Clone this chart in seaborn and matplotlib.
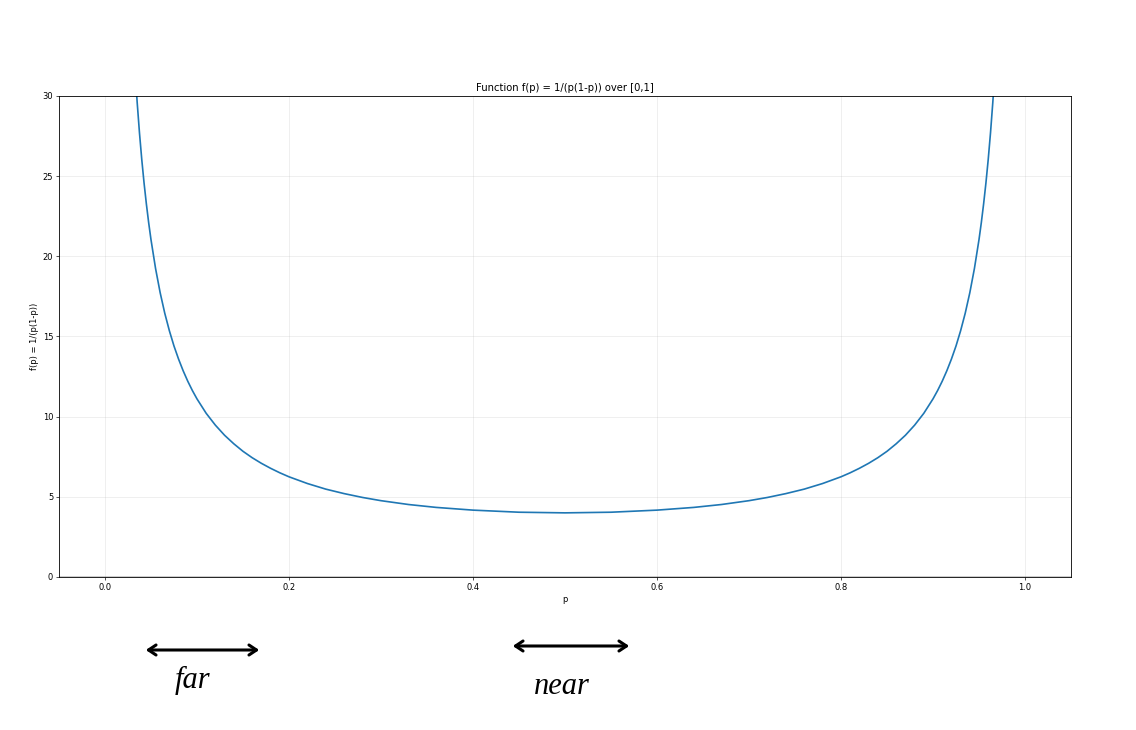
import matplotlib
matplotlib.use("Agg")
import matplotlib.pyplot as plt
import seaborn as sns

P_VALUES = [0.030, 0.0325, 0.035, 0.0375, 0.040, 0.0425, 0.045, 0.0475, 0.050, 0.055,
            0.060, 0.065, 0.070, 0.075, 0.080, 0.085, 0.090, 0.095, 0.100, 0.11,
            0.12, 0.13, 0.14, 0.15, 0.16, 0.17, 0.18, 0.19, 0.20, 0.22,
            0.24, 0.26, 0.28, 0.30, 0.33, 0.36, 0.40, 0.45, 0.50, 0.55,
            0.60, 0.64, 0.67, 0.70, 0.72, 0.74, 0.76, 0.78, 0.80, 0.81,
            0.82, 0.83, 0.84, 0.85, 0.86, 0.87, 0.88, 0.89, 0.90, 0.905,
            0.91, 0.915, 0.92, 0.925, 0.93, 0.935, 0.94, 0.945, 0.95, 0.9525,
            0.955, 0.9575, 0.96, 0.9625, 0.965, 0.9675, 0.97]
F_VALUES = [34.36, 31.80, 29.61, 27.71, 26.04, 24.57, 23.27, 22.10, 21.05, 19.24,
            17.73, 16.45, 15.36, 14.41, 13.59, 12.86, 12.21, 11.63, 11.11, 10.21,
            9.47, 8.84, 8.31, 7.84, 7.44, 7.09, 6.78, 6.50, 6.25, 5.83,
            5.48, 5.20, 4.96, 4.76, 4.52, 4.34, 4.17, 4.04, 4.00, 4.04,
            4.17, 4.34, 4.52, 4.76, 4.96, 5.20, 5.48, 5.83, 6.25, 6.50,
            6.78, 7.09, 7.44, 7.84, 8.31, 8.84, 9.47, 10.21, 11.11, 11.63,
            12.21, 12.86, 13.59, 14.41, 15.36, 16.45, 17.73, 19.24, 21.05, 22.10,
            23.27, 24.57, 26.04, 27.71, 29.61, 31.80, 34.36]

TITLE = "Function f(p) = 1/(p(1-p)) over [0,1]"
NOTES = ["far", "near"]

SCALE = 0.6  # the original figure looks shrunk down to this size
plt.rcParams.update({
    "font.size": 10 * SCALE,
    "axes.linewidth": 1.0 * SCALE,
    "xtick.major.size": 3.5 * SCALE,
    "ytick.major.size": 3.5 * SCALE,
    "xtick.major.pad": 3.5 * SCALE,
    "ytick.major.pad": 3.5 * SCALE,
    "xtick.major.width": 0.8 * SCALE,
    "ytick.major.width": 0.8 * SCALE,
    "axes.labelpad": 4 * SCALE,
    "axes.titlepad": 6 * SCALE,
    "grid.linewidth": 0.8 * SCALE,
})

fig = plt.figure(figsize=(11.36, 7.3), dpi=100)
ax = fig.add_axes([0.0519, 0.2096, 0.8909, 0.6589])

sns.lineplot(x=P_VALUES, y=F_VALUES, ax=ax, color="#1f77b4", linewidth=1.2)
ax.axhline(0, color="black", linewidth=1.0)

ax.set_xlim(-0.05, 1.05)
ax.set_ylim(0, 30)
ax.set_xticks([0.0, 0.2, 0.4, 0.6, 0.8, 1.0])
ax.set_yticks([0, 5, 10, 15, 20, 25, 30])
ax.grid(True, alpha=0.3)
ax.set_title(TITLE)
ax.set_xlabel("p")
ax.set_ylabel("f(p) = 1/(p(1-p))")

# hand-drawn style notes under the axis
arrow_spans = [(143, 262, 650), (510, 632, 646)]
text_pos = [(192, 680), (562, 686)]
for (x0, x1, y), (tx, ty), label in zip(arrow_spans, text_pos, NOTES):
    ax.annotate("", xy=(x0 / 1136, 1 - y / 730), xytext=(x1 / 1136, 1 - y / 730),
                xycoords="figure fraction", textcoords="figure fraction",
                arrowprops=dict(arrowstyle="<->, head_length=0.9, head_width=0.6",
                                color="black", lw=2.2))
    fig.text(tx / 1136, 1 - ty / 730, label, fontsize=22, style="italic",
             family="Liberation Serif", ha="center", va="center")

plt.savefig("out.png", dpi=100)
